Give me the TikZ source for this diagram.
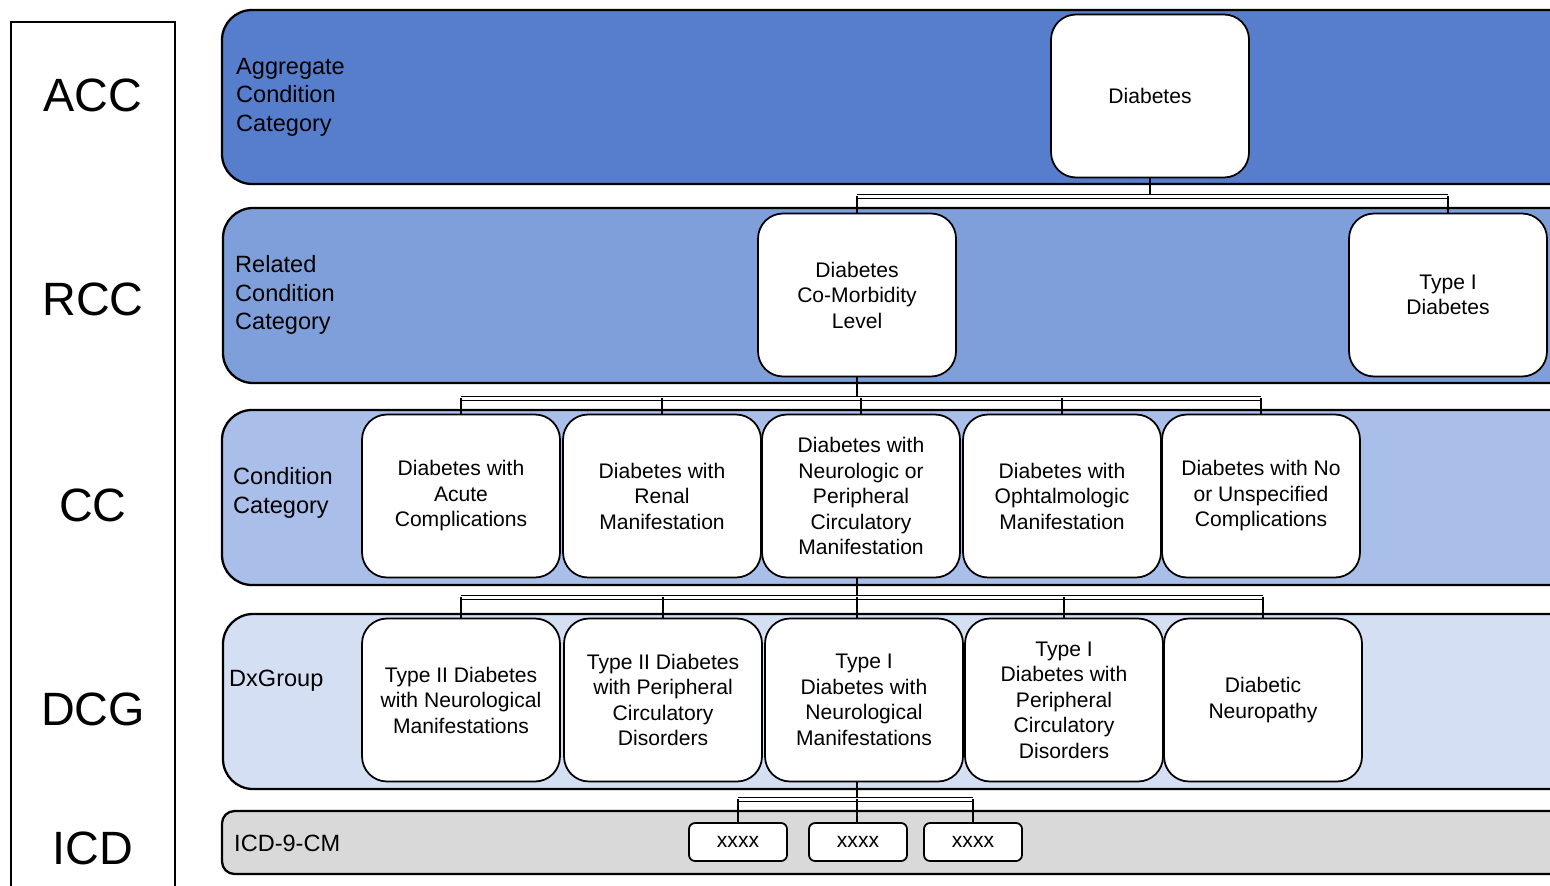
\documentclass[tikz,border=0pt]{standalone}
\usepackage{fontspec}
\setmainfont{Liberation Sans}
\usetikzlibrary{calc}

\begin{document}
\begin{tikzpicture}[x=0.02cm, y=-0.02cm,
    band/.style={draw=black, line width=1.3pt, rounded corners=0.6cm},
    cbox/.style={draw=black, line width=1pt, fill=white, rounded corners=0.5cm,
        minimum width=3.96cm, minimum height=3.26cm, align=center,
        font=\fontsize{12}{14.5}\selectfont},
    icdbox/.style={draw=black, line width=1pt, fill=white, rounded corners=0.12cm,
        minimum width=1.96cm, minimum height=0.76cm,
        font=\fontsize{12}{14.5}\selectfont},
    tag/.style={font=\fontsize{26.6}{30}\selectfont},
    layer/.style={anchor=west, align=left, font=\fontsize{13.4}{16.2}\selectfont},
    bar/.style={double, double distance=1.4pt, line width=0.6pt},
    link/.style={line width=1pt}]
    \definecolor{accblue}{RGB}{86,126,204}
    \definecolor{rccblue}{RGB}{127,159,218}
    \definecolor{ccblue}{RGB}{169,190,233}
    \definecolor{dcgblue}{RGB}{213,223,244}
    \definecolor{icdgrey}{RGB}{217,217,217}
    \clip (0,0) rectangle (1550,885);

    % Left column
    \draw[line width=1pt] (11,900) -- (11,22) -- (175,22) -- (175,900);
    \node[tag] (tacc) at (93,95) {ACC};
    \node[tag] (trcc) at (93,299) {RCC};
    \node[tag] (tcc) at (93,505) {CC};
    \node[tag] (tdcg) at (93,709) {DCG};
    \node[tag] (ticd) at (93,848) {ICD};

    % Layer bands
    \draw[band, fill=accblue] (222,10) rectangle (1590,184);
    \draw[band, fill=rccblue] (223,208) rectangle (1590,383);
    \draw[band, fill=ccblue] (222,410) rectangle (1590,585);
    \draw[band, fill=dcgblue] (223,614) rectangle (1590,789);
    \draw[band, fill=icdgrey, rounded corners=0.25cm] (222,811) rectangle (1590,874);

    \node[layer] (lacc) at (230,97) {Aggregate\\Condition\\Category};
    \node[layer] (lrcc) at (229,295) {Related\\Condition\\Category};
    \node[layer] (lcc) at (227,493) {Condition\\Category};
    \node[layer] (ldcg) at (223,681) {DxGroup};
    \node[layer] (licd) at (228,843) {ICD-9-CM};

    % ACC
    \node[cbox] (dia) at (1150,96) {Diabetes};

    % RCC
    \node[cbox] (com) at (857,295) {Diabetes\\Co-Morbidity\\Level};
    \node[cbox] (typ1) at (1448,295) {Type I\\Diabetes};

    % CC
    \node[cbox] (acu) at (461,496) {Diabetes with\\Acute\\Complications};
    \node[cbox] (ren) at (662,496) {Diabetes with\\Renal\\Manifestation};
    \node[cbox] (neu) at (861,496) {Diabetes with\\Neurologic or\\Peripheral\\Circulatory\\Manifestation};
    \node[cbox] (oph) at (1062,496) {Diabetes with\\Ophtalmologic\\Manifestation};
    \node[cbox] (unc) at (1261,496) {Diabetes with No\\or Unspecified\\Complications};

    % DCG
    \node[cbox] (tneu) at (461,700) {Type II Diabetes\\with Neurological\\Manifestations};
    \node[cbox] (tper) at (663,700) {Type II Diabetes\\with Peripheral\\Circulatory\\Disorders};
    \node[cbox] (oneu) at (864,700) {Type I\\Diabetes with\\Neurological\\Manifestations};
    \node[cbox] (oper) at (1064,700) {Type I\\Diabetes with\\Peripheral\\Circulatory\\Disorders};
    \node[cbox] (dneu) at (1263,700) {Diabetic\\Neuropathy};

    % ICD
    \node[icdbox] (xa) at (738,842) {xxxx};
    \node[icdbox] (xb) at (858,842) {xxxx};
    \node[icdbox] (xc) at (973,842) {xxxx};

    % Connectors
    \coordinate (b1) at ($(dia.south)+(0,18)$);
    \draw[link] (dia.south) -- (b1);
    \draw[bar] (com.north |- b1) -- (typ1.north |- b1);
    \foreach \c in {com, typ1} \draw[link] (\c.north |- b1) -- (\c.north);

    \coordinate (b2) at ($(com.south)+(0,21)$);
    \draw[link] (com.south) -- (b2);
    \draw[bar] (acu.north |- b2) -- (unc.north |- b2);
    \foreach \c in {acu, ren, neu, oph, unc} \draw[link] (\c.north |- b2) -- (\c.north);

    \coordinate (b3) at ($(com.south)+(0,220)$);
    \draw[link] (com.south |- neu.south) -- (b3);
    \draw[bar] (tneu.north |- b3) -- (dneu.north |- b3);
    \foreach \c in {tneu, tper, oper, dneu} \draw[link] (\c.north |- b3) -- (\c.north);
    \draw[link] (b3) -- (b3 |- oneu.north);

    \coordinate (b4) at ($(com.south)+(0,422)$);
    \draw[link] (com.south |- oneu.south) -- (b4);
    \draw[bar] (xa.north |- b4) -- (xc.north |- b4);
    \foreach \c in {xa, xc} \draw[link] (\c.north |- b4) -- (\c.north);
    \draw[link] (b4) -- (b4 |- xb.north);
\end{tikzpicture}
\end{document}
